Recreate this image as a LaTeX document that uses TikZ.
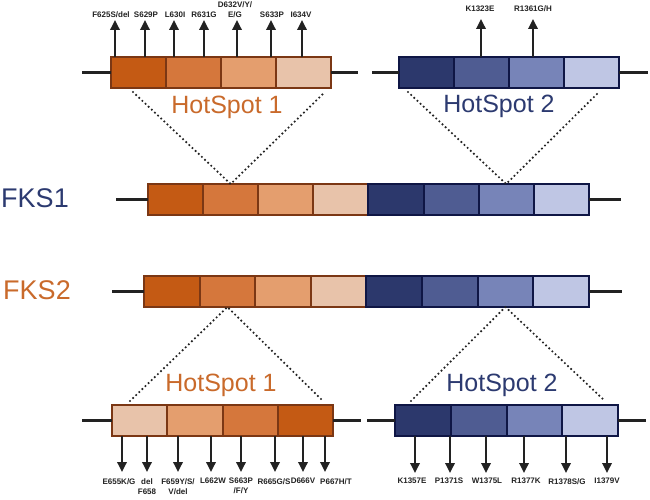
\documentclass[tikz,border=0pt]{standalone}
\usepackage{fontspec}
\setmainfont{Liberation Sans}
\usetikzlibrary{arrows.meta}
\definecolor{oA}{HTML}{C45A14}
\definecolor{oB}{HTML}{D5773C}
\definecolor{oC}{HTML}{E49E6E}
\definecolor{oD}{HTML}{E8C3AA}
\definecolor{obord}{HTML}{7B3714}
\definecolor{bA}{HTML}{2C386C}
\definecolor{bB}{HTML}{4F5C92}
\definecolor{bC}{HTML}{7784B8}
\definecolor{bD}{HTML}{BFC6E4}
\definecolor{bbord}{HTML}{0F1645}
\definecolor{otext}{HTML}{C96A2B}
\definecolor{btext}{HTML}{2C3A70}
\definecolor{ink}{HTML}{222222}
\begin{document}
\begin{tikzpicture}[x=1pt,y=-1pt,
  seg/.style={line width=2pt, minimum height=31pt, inner sep=0pt, outer sep=0pt, anchor=north west},
  oseg/.style={seg, draw=obord},
  bseg/.style={seg, draw=bbord},
  axisline/.style={line width=3pt, draw=ink},
  mut/.style={-{Triangle[length=10pt,width=9.5pt]}, line width=1.8pt, draw=ink},
  dots/.style={line width=2.4pt, dash pattern=on 0pt off 4.3pt, line cap=round, draw=ink},
  lab/.style={font=\bfseries\fontsize{8}{10}\selectfont, inner sep=0pt, align=center, text=ink},
  hs/.style={font=\fontsize{25}{30}\selectfont, inner sep=0pt},
  gene/.style={font=\fontsize{27}{32}\selectfont, inner sep=0pt}
]
\useasboundingbox (0,0) rectangle (650,500);

% ---------------- top hotspot bars ----------------
\foreach \i/\c in {1/oA,2/oB,3/oC,4/oD}
  \node[oseg, fill=\c, minimum width=55pt] (tl\i) at ({111+55*(\i-1)},57) {};
\foreach \i/\c in {1/bA,2/bB,3/bC,4/bD}
  \node[bseg, fill=\c, minimum width=55pt] (tr\i) at ({399+55*(\i-1)},57) {};

% ---------------- FKS1 ----------------
\foreach \i/\c in {1/oA,2/oB,3/oC,4/oD}
  \node[oseg, fill=\c, minimum width=55.1pt] (f1s\i) at ({148+55.1*(\i-1)},184) {};
\foreach \i/\c in {5/bA,6/bB,7/bC,8/bD}
  \node[bseg, fill=\c, minimum width=55.1pt] (f1s\i) at ({148+55.1*(\i-1)},184) {};

% ---------------- FKS2 ----------------
\foreach \i/\c in {1/oA,2/oB,3/oC,4/oD}
  \node[oseg, fill=\c, minimum width=55.6pt] (f2s\i) at ({144+55.6*(\i-1)},276) {};
\foreach \i/\c in {5/bA,6/bB,7/bC,8/bD}
  \node[bseg, fill=\c, minimum width=55.6pt] (f2s\i) at ({144+55.6*(\i-1)},276) {};

% ---------------- bottom hotspot bars ----------------
\foreach \i/\c in {1/oD,2/oC,3/oB,4/oA}
  \node[oseg, fill=\c, minimum width=55.25pt] (bl\i) at ({112+55.25*(\i-1)},405) {};
\foreach \i/\c in {1/bA,2/bB,3/bC,4/bD}
  \node[bseg, fill=\c, minimum width=55.75pt] (br\i) at ({395+55.75*(\i-1)},405) {};

% ---------------- free ends of the axis lines ----------------
\coordinate (tlL) at ([xshift=-29pt]tl1.west);  \coordinate (tlR) at ([xshift=27pt]tl4.east);
\coordinate (trL) at ([xshift=-27pt]tr1.west);  \coordinate (trR) at ([xshift=29pt]tr4.east);
\coordinate (f1L) at ([xshift=-32pt]f1s1.west); \coordinate (f1R) at ([xshift=32pt]f1s8.east);
\coordinate (f2L) at ([xshift=-32pt]f2s1.west); \coordinate (f2R) at ([xshift=33pt]f2s8.east);
\coordinate (blL) at ([xshift=-30pt]bl1.west);  \coordinate (blR) at ([xshift=28pt]bl4.east);
\coordinate (brL) at ([xshift=-28pt]br1.west);  \coordinate (brR) at ([xshift=28pt]br4.east);

% ---------------- axis lines ----------------
\draw[axisline] (tlL) -- (tl1.west);  \draw[axisline] (tl4.east) -- (tlR);
\draw[axisline] (trL) -- (tr1.west);  \draw[axisline] (tr4.east) -- (trR);
\draw[axisline] (f1L) -- (f1s1.west); \draw[axisline] (f1s8.east) -- (f1R);
\draw[axisline] (f2L) -- (f2s1.west); \draw[axisline] (f2s8.east) -- (f2R);
\draw[axisline] (blL) -- (bl1.west);  \draw[axisline] (bl4.east) -- (blR);
\draw[axisline] (brL) -- (br1.west);  \draw[axisline] (br4.east) -- (brR);

% ---------------- gene names ----------------
\node[gene, text=btext] (fks1) at (35,198) {FKS1};
\node[gene, text=otext] (fks2) at (37,290) {FKS2};

% ---------------- hotspot titles ----------------
\node[hs, text=otext] (hs1t) at (227,107) {HotSpot 1};
\node[hs, text=btext] (hs2t) at (499,106) {HotSpot 2};
\node[hs, text=otext] (hs1b) at (221,385) {HotSpot 1};
\node[hs, text=btext] (hs2b) at (502,385) {HotSpot 2};

% ---------------- dotted zoom lines ----------------
\coordinate (d1) at (133,92);  \coordinate (d2) at (325,92);
\coordinate (d3) at (408,92);  \coordinate (d4) at (599,92);
\coordinate (d5) at (130,401); \coordinate (d6) at (323,401);
\coordinate (d7) at (411,401); \coordinate (d8) at (605,401);
\draw[dots] (d1) -- (f1s2.north) -- (d2);
\draw[dots] (d3) -- (f1s7.north) -- (d4);
\draw[dots] (d5) -- (f2s2.south) -- (d6);
\draw[dots] (d7) -- (f2s7.south) -- (d8);

% ---------------- top mutations ----------------
\foreach \x [count=\k] in {115,145,174,204,237,271,302}{
  \coordinate (tla\k) at (\x,57); \coordinate (tlt\k) at (\x,20);
  \draw[mut] (tla\k) -- (tlt\k);
}
\node[lab, anchor=south] (m1) at (111,18) {F625S/del};
\node[lab, anchor=south] (m2) at (146,18) {S629P};
\node[lab, anchor=south] (m3) at (175,18) {L630I};
\node[lab, anchor=south] (m4) at (204,18) {R631G};
\node[lab, anchor=south] (m5) at (235,18) {D632V/Y/\\E/G};
\node[lab, anchor=south] (m6) at (272,18) {S633P};
\node[lab, anchor=south] (m7) at (301,18) {I634V};

\foreach \x [count=\k] in {481,533}{
  \coordinate (tra\k) at (\x,57); \coordinate (trt\k) at (\x,19);
  \draw[mut] (tra\k) -- (trt\k);
}
\node[lab, anchor=south] (m8) at (480,12) {K1323E};
\node[lab, anchor=south] (m9) at (533,12) {R1361G/H};

% ---------------- bottom mutations ----------------
\foreach \x [count=\k] in {122,147,178,211,241,275,303,325}{
  \coordinate (bla\k) at (\x,436); \coordinate (blt\k) at (\x,472);
  \draw[mut] (bla\k) -- (blt\k);
}
\node[lab, anchor=north] (n1) at (119,478) {E655K/G};
\node[lab, anchor=north] (n2) at (147,478) {del\\F658};
\node[lab, anchor=north] (n3) at (178,478) {F659Y/S/\\V/del};
\node[lab, anchor=north] (n4) at (213,478) {L662W};
\node[lab, anchor=north] (n5) at (241,478) {S663P\\/F/Y};
\node[lab, anchor=north] (n6) at (274,478) {R665G/S};
\node[lab, anchor=north] (n7) at (303,478) {D666V};
\node[lab, anchor=north] (n8) at (336,478) {P667H/T};

\foreach \x [count=\k] in {415,450,486,524,566,607}{
  \coordinate (bra\k) at (\x,436); \coordinate (brt\k) at (\x,473);
  \draw[mut] (bra\k) -- (brt\k);
}
\node[lab, anchor=north] (r1) at (412,478) {K1357E};
\node[lab, anchor=north] (r2) at (449,478) {P1371S};
\node[lab, anchor=north] (r3) at (487,478) {W1375L};
\node[lab, anchor=north] (r4) at (526,478) {R1377K};
\node[lab, anchor=north] (r5) at (567,478) {R1378S/G};
\node[lab, anchor=north] (r6) at (607,478) {I1379V};
\end{tikzpicture}
\end{document}
